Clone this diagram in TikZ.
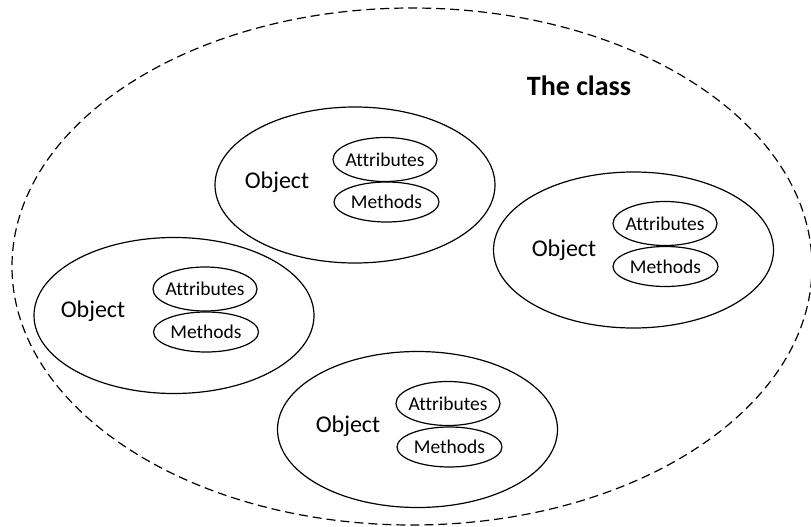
\documentclass[tikz,border=0pt]{standalone}
\usepackage{fontspec}
\setmainfont{Carlito}[Ligatures={NoCommon}]
\usetikzlibrary{shapes.geometric}
\begin{document}
\begin{tikzpicture}[x=1pt,y=-1pt,
  oval/.style n args={2}{ellipse, draw, line width=1.2pt, inner sep=0pt, minimum width=#1pt, minimum height=#2pt},
  objbox/.style={oval={280}{156}},
  attrbox/.style={oval={104}{44}},
  methbox/.style={oval={105}{40}},
  objtext/.style={font=\fontsize{24}{26}\selectfont},
  smalltext/.style={font=\fontsize{19.5}{21}\selectfont},
]
\useasboundingbox (0,0) rectangle (811,527);
\node[ellipse, draw, dash pattern=on 9pt off 5pt, line width=1.2pt, inner sep=0pt,
      minimum width=800pt, minimum height=517pt] (class) at (412,266.5) {};
\node[font=\fontsize{28}{30}\selectfont\bfseries] (classlabel) at (579,86) {The class};

% top object
\node[objbox] (o1) at (355,185) {};
\node[objtext] (o1t) at (277,182) {Object};
\node[attrbox] (a1) at (385,159.5) {};
\node[smalltext] (a1t) at (a1) {Attributes};
\node[methbox] (m1) at (386.5,202) {};
\node[smalltext] (m1t) at (m1) {Methods};

% right object
\node[objbox] (o2) at (633.5,250) {};
\node[objtext] (o2t) at (564,250) {Object};
\node[attrbox] (a2) at (665,223.5) {};
\node[smalltext] (a2t) at (a2) {Attributes};
\node[methbox] (m2) at (665.5,266.5) {};
\node[smalltext] (m2t) at (m2) {Methods};

% left object
\node[objbox] (o3) at (174,315.5) {};
\node[objtext] (o3t) at (93,311) {Object};
\node[attrbox] (a3) at (205,289) {};
\node[smalltext] (a3t) at (a3) {Attributes};
\node[methbox] (m3) at (206,332) {};
\node[smalltext] (m3t) at (m3) {Methods};

% bottom object
\node[objbox] (o4) at (417.5,429.5) {};
\node[objtext] (o4t) at (348,426) {Object};
\node[attrbox] (a4) at (448,403.5) {};
\node[smalltext] (a4t) at (a4) {Attributes};
\node[methbox] (m4) at (449.5,447) {};
\node[smalltext] (m4t) at (m4) {Methods};
\end{tikzpicture}
\end{document}
